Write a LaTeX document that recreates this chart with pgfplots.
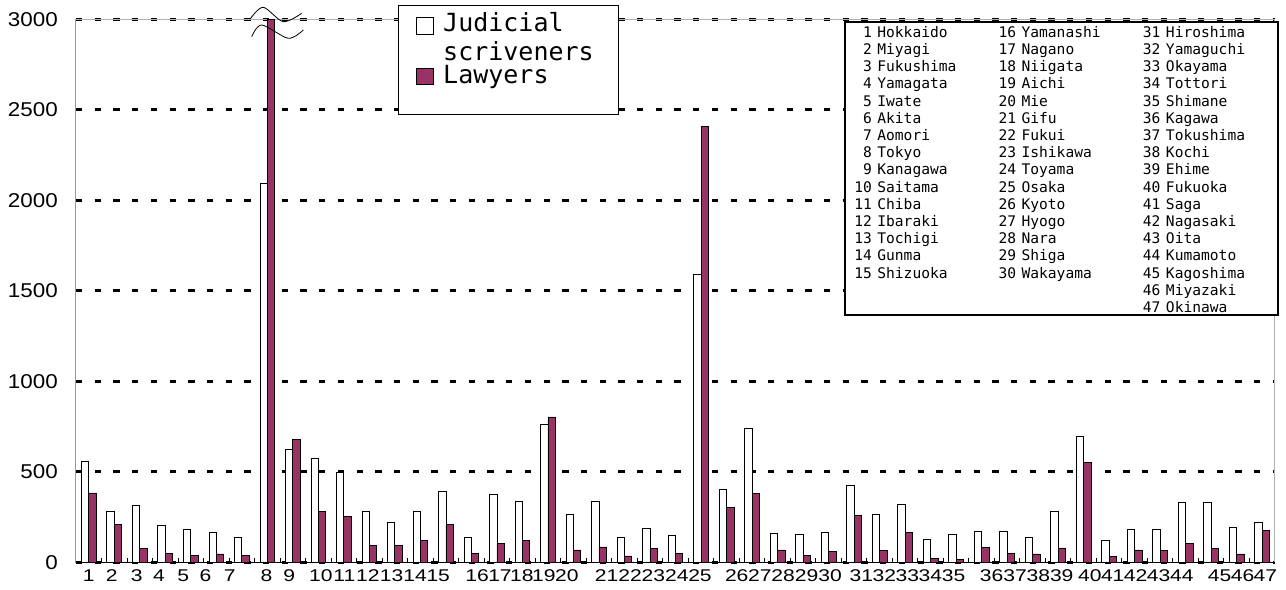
\documentclass[border=0pt]{standalone}
\usepackage{pgfplots}
\pgfplotsset{compat=1.18}
\usepackage{pgfplotstable}
\usepackage{fontspec}
\setmainfont{Liberation Sans}
\newfontfamily\ytickfont[FakeStretch=1.12]{Liberation Sans}
\newfontfamily\xtickfont[FakeStretch=1.24]{Liberation Sans}
\newfontfamily\jmono{DejaVu Sans Mono}
\definecolor{plum}{HTML}{993366}

\pgfplotstableread{
x jud law
1 560 383
2 283 210
3 313 77
4 202 50
5 180 39
6 167 46
7 138 39
8 2092 3000
9 624 677
10 575 283
11 495 252
12 283 92
13 223 92
14 280 121
15 390 210
16 136 50
17 376 105
18 337 121
19 764 803
20 267 68
21 337 85
22 138 35
23 188 75
24 149 50
25 1590 2410
26 400 305
27 738 379
28 160 68
29 156 39
30 166 61
31 425 260
32 267 66
33 320 164
34 125 22
35 156 18
36 171 83
37 171 51
38 136 46
39 280 79
40 698 552
41 121 33
42 182 68
43 182 66
44 329 105
45 329 75
46 191 46
47 221 178
}\datatable

\begin{document}
\begin{tikzpicture}[x=1bp,y=1bp]
\useasboundingbox (-76,-27.7) rectangle (1210,562.3);
\begin{axis}[
  at={(0,0)}, anchor=south west,
  scale only axis, width=1199bp, height=543bp,
  xmin=0.5, xmax=47.5, ymin=0, ymax=3000,
  ybar=0pt, bar width=7.4bp,
  axis line style={draw=gray!60, line width=1bp},
  ymajorgrids,
  major grid style={black, line width=3bp, dash pattern=on 6.3bp off 12.4bp},
  ytick={0,500,1000,1500,2000,2500,3000},
  xtick={1,1.90,2.88,3.75,4.70,5.58,6.53,7.97,8.86,10.10,11.02,11.94,12.87,13.79,14.70,16.22,17.12,17.98,18.84,19.74,21.30,22.22,23.13,24.05,24.96,26.40,27.31,28.22,29.14,30.06,31.29,32.19,33.09,33.99,34.90,36.39,37.31,38.22,39.14,40.24,41.14,42.04,42.94,43.85,45.33,46.23,47.12},
  xticklabels={1,2,3,4,5,6,7,8,9,10,11,12,13,14,15,16,17,18,19,20,21,22,23,24,25,26,27,28,29,30,31,32,33,34,35,36,37,38,39,40,41,42,43,44,45,46,47},
  minor xtick={1.5,2.5,...,46.5},
  major tick length=0pt, minor tick length=4bp, tick align=inside,
  xtick pos=bottom, ytick pos=left,
  minor tick style={black, line width=1bp},
  /pgf/number format/assume math mode=true,
  /pgf/number format/1000 sep={},
  xticklabel style={font=\xtickfont\fontsize{17bp}{19bp}\selectfont, anchor=base, inner sep=0pt, yshift=-19.4bp},
  yticklabel style={font=\ytickfont\fontsize{20bp}{22bp}\selectfont, anchor=east, inner sep=0pt, xshift=-18bp},
  clip=true,
]
\addplot[fill=white, draw=black, line width=0.8bp] table[x=x,y=jud]{\datatable};
\addplot[fill=plum, draw=black, line width=0.8bp] table[x=x,y=law]{\datatable};
\draw[black, line width=1bp] (rel axis cs:0,1) -- (rel axis cs:0,0) -- (rel axis cs:1,0);
\end{axis}
% break marks on the Tokyo bar
\draw[black, line width=0.8bp] plot[smooth] coordinates {(174.7,544) (187.3,555) (207.3,540.6) (225.7,549)};
\draw[black, line width=0.8bp] plot[smooth] coordinates {(175.7,525.6) (185.7,537.3) (212.3,524) (227.3,532.3)};
% series legend
\draw[black, line width=0.8bp, fill=white] (322,557.3) rectangle (542,448.3);
\draw[black, line width=0.8bp, fill=white] (340,545) rectangle (357.3,528.3);
\draw[black, line width=0.8bp, fill=plum] (340,494) rectangle (357.3,478.3);
\node[anchor=base west, inner sep=0pt, font=\jmono\fontsize{25bp}{28bp}\selectfont] at (367,530.6) {Judicial};
\node[anchor=base west, inner sep=0pt, font=\jmono\fontsize{25bp}{28bp}\selectfont] at (367,502) {scriveners};
\node[anchor=base west, inner sep=0pt, font=\jmono\fontsize{25bp}{28bp}\selectfont] at (367,478.5) {Lawyers};
% prefecture key
\draw[black, line width=2bp, fill=white] (769,540.3) rectangle (1202,247.3);
\node[anchor=north west, inner sep=0pt, font=\jmono\fontsize{14.6bp}{17.2bp}\selectfont] at (778.1,537.3) {%
\begin{tabular}{@{}r@{\hspace{5.5bp}}l@{}}
1&Hokkaido\\ 2&Miyagi\\ 3&Fukushima\\ 4&Yamagata\\ 5&Iwate\\ 6&Akita\\ 7&Aomori\\ 8&Tokyo\\ 9&Kanagawa\\ 10&Saitama\\ 11&Chiba\\ 12&Ibaraki\\ 13&Tochigi\\ 14&Gunma\\ 15&Shizuoka
\end{tabular}};
\node[anchor=north west, inner sep=0pt, font=\jmono\fontsize{14.6bp}{17.2bp}\selectfont] at (922.3,537.3) {%
\begin{tabular}{@{}r@{\hspace{5.5bp}}l@{}}
16&Yamanashi\\ 17&Nagano\\ 18&Niigata\\ 19&Aichi\\ 20&Mie\\ 21&Gifu\\ 22&Fukui\\ 23&Ishikawa\\ 24&Toyama\\ 25&Osaka\\ 26&Kyoto\\ 27&Hyogo\\ 28&Nara\\ 29&Shiga\\ 30&Wakayama
\end{tabular}};
\node[anchor=north west, inner sep=0pt, font=\jmono\fontsize{14.6bp}{17.2bp}\selectfont] at (1066.7,537.3) {%
\begin{tabular}{@{}r@{\hspace{5.5bp}}l@{}}
31&Hiroshima\\ 32&Yamaguchi\\ 33&Okayama\\ 34&Tottori\\ 35&Shimane\\ 36&Kagawa\\ 37&Tokushima\\ 38&Kochi\\ 39&Ehime\\ 40&Fukuoka\\ 41&Saga\\ 42&Nagasaki\\ 43&Oita\\ 44&Kumamoto\\ 45&Kagoshima\\ 46&Miyazaki\\ 47&Okinawa
\end{tabular}};
\end{tikzpicture}
\end{document}
